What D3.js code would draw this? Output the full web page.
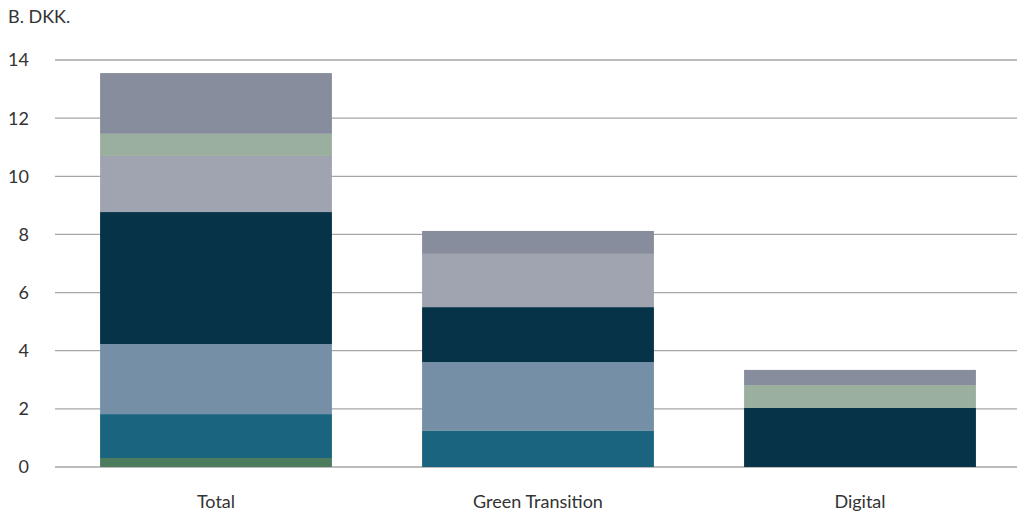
<!DOCTYPE html>
<html>
<head>
<meta charset="utf-8">
<script src="https://cdn.jsdelivr.net/npm/d3@7"></script>
<style>
  body { margin: 0; background: #fff; }
  text { font-family: Lato, "Noto Sans", sans-serif; fill: #333; }
</style>
</head>
<body>
<svg id="chart" width="1017" height="515"></svg>
<script>
// categories and stacked series (bottom to top), B. DKK.
var categories = ["Total", "Green Transition", "Digital"];
var seriesNames = ["s1", "s2", "s3", "s4", "s5", "s6", "s7"];
var s1 = [0.31, 0, 0];
var s2 = [1.51, 1.24, 0];
var s3 = [2.41, 2.37, 0];
var s4 = [4.54, 1.89, 2.03];
var s5 = [1.93, 1.83, 0];
var s6 = [0.76, 0, 0.79];
var s7 = [2.09, 0.79, 0.52];
var yTicks = [0, 2, 4, 6, 8, 10, 12, 14];
var colors = ["#4d7b5e", "#1b6480", "#7590a6", "#063347", "#a0a4b0", "#9aaf9e", "#878d9c"];

var seriesVals = [s1, s2, s3, s4, s5, s6, s7];
var rows = categories.map(function(c, i) {
  var r = { cat: c };
  seriesNames.forEach(function(s, j) { r[s] = seriesVals[j][i]; });
  return r;
});

var svg = d3.select("#chart");

var x = d3.scaleBand()
  .domain(categories)
  .range([55, 1021])
  .paddingInner(0.28)
  .paddingOuter(0.14);

var y = d3.scaleLinear()
  .domain([0, 14])
  .range([467, 60]);

// gridlines
svg.append("g").selectAll("line")
  .data(yTicks)
  .enter().append("line")
  .attr("x1", 55).attr("x2", 1017)
  .attr("y1", function(d) { return y(d); })
  .attr("y2", function(d) { return y(d); })
  .attr("stroke", "#a6a6a6")
  .attr("stroke-width", 1.3);

// y labels
svg.append("g").selectAll("text")
  .data(yTicks)
  .enter().append("text")
  .attr("x", 29)
  .attr("y", function(d) { return y(d); })
  .attr("dy", "0.36em")
  .attr("text-anchor", "end")
  .style("font-size", "18px")
  .text(function(d) { return d; });

svg.append("text")
  .attr("x", 8).attr("y", 23)
  .style("font-size", "18px")
  .text("B. DKK.");

var stack = d3.stack().keys(seriesNames);
var layers = stack(rows);

svg.append("g").selectAll("g")
  .data(layers)
  .enter().append("g")
  .attr("fill", function(d, i) { return colors[i]; })
  .selectAll("rect")
  .data(function(d) { return d; })
  .enter().append("rect")
  .attr("x", function(d) { return x(d.data.cat); })
  .attr("width", x.bandwidth())
  .attr("y", function(d) { return y(d[1]); })
  .attr("height", function(d) { return y(d[0]) - y(d[1]); });

// category labels
svg.append("g").selectAll("text")
  .data(categories)
  .enter().append("text")
  .attr("x", function(d) { return x(d) + x.bandwidth() / 2; })
  .attr("y", 508)
  .attr("text-anchor", "middle")
  .style("font-size", "18px")
  .text(function(d) { return d; });
</script>
</body>
</html>
